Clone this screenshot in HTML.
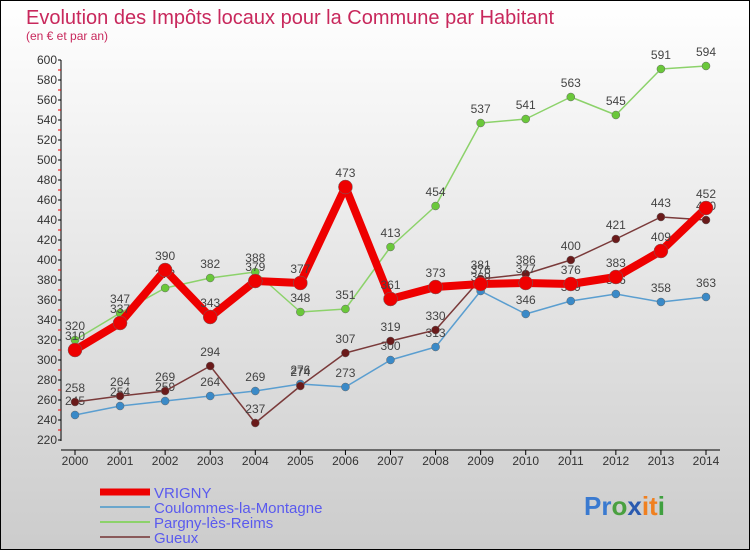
<!DOCTYPE html>
<html><head><meta charset="utf-8"><style>
body{margin:0;width:750px;height:550px;overflow:hidden;font-family:"Liberation Sans",sans-serif}
svg{display:block}
</style></head><body>
<svg id="chart" width="750" height="550" xmlns="http://www.w3.org/2000/svg">
<defs><linearGradient id="bg" x1="0" y1="0" x2="0" y2="1"><stop offset="0" stop-color="#ffffff"/><stop offset="1" stop-color="#cccccc"/></linearGradient></defs>
<rect x="0.5" y="0.5" width="749" height="549" fill="url(#bg)" stroke="#000" stroke-width="1"/>
<text x="26" y="24" font-size="20" fill="#c8285c">Evolution des Impôts locaux pour la Commune par Habitant</text>
<text x="26" y="40" font-size="12" fill="#c8285c">(en € et par an)</text>
<g id="axes"></g><g id="series"></g>
<g>
<line x1="100" y1="492" x2="150" y2="492" stroke="#e00" stroke-width="7"/>
<text x="154" y="498" font-size="15" fill="#5a5aee">VRIGNY</text>
<line x1="100" y1="507" x2="150" y2="507" stroke="#6aa6cc" stroke-width="2"/>
<text x="154" y="513" font-size="15" fill="#5a5aee">Coulommes-la-Montagne</text>
<line x1="100" y1="522" x2="150" y2="522" stroke="#8cd26a" stroke-width="2"/>
<text x="154" y="528" font-size="15" fill="#5a5aee">Pargny-lès-Reims</text>
<line x1="100" y1="537" x2="150" y2="537" stroke="#8a5a5a" stroke-width="2"/>
<text x="154" y="543" font-size="15" fill="#5a5aee">Gueux</text>
</g>
<text x="584" y="515" font-size="26" font-weight="bold"><tspan fill="#3a7ad0">Pr</tspan><tspan fill="#4aa040">o</tspan><tspan fill="#2a5ab0">x</tspan><tspan fill="#f08020">it</tspan><tspan fill="#40a040">i</tspan></text>
</svg>
<script>
const years=[2000,2001,2002,2003,2004,2005,2006,2007,2008,2009,2010,2011,2012,2013,2014];
const vrigny=[310,337,390,343,379,377,473,361,373,376,377,376,383,409,452];
const coulommes=[245,254,259,264,269,276,273,300,313,369,346,359,366,358,363];
const pargny=[320,347,372,382,388,348,351,413,454,537,541,563,545,591,594];
const gueux=[258,264,269,294,237,274,307,319,330,381,386,400,421,443,440];
const yTicks=[220,240,260,280,300,320,340,360,380,400,420,440,460,480,500,520,540,560,580,600];
const NS="http://www.w3.org/2000/svg";
const x=i=>75+i*(706-75)/(years.length-1);
const y=v=>440-(v-220)*(380/380);
function mk(tag,attrs,parent){const e=document.createElementNS(NS,tag);for(const k in attrs)e.setAttribute(k,attrs[k]);parent.appendChild(e);return e;}
const axes=document.getElementById('axes');
let a=mk('line',{x1:61,y1:60,x2:61,y2:441,stroke:'#000'},axes);


a=mk('line',{x1:61,y1:450,x2:720,y2:450,stroke:'#000'},axes);


yTicks.forEach((t,i)=>{
  mk('line',{x1:58,y1:y(t),x2:61,y2:y(t),stroke:'#000'},axes);
  if(i<yTicks.length-1) mk('line',{x1:58,y1:y(t)-10,x2:61,y2:y(t)-10,stroke:'#e00'},axes);
  const tx=mk('text',{x:57,y:y(t)+4,'font-size':12,'text-anchor':'end',fill:'#333'},axes);
  tx.textContent=t;
  
  
});
years.forEach((yr,i)=>{
  mk('line',{x1:x(i),y1:450,x2:x(i),y2:455,stroke:'#000'},axes);
  const tx=mk('text',{x:x(i),y:465,'font-size':12,'text-anchor':'middle',fill:'#333'},axes);
  tx.textContent=yr;
  
  
});
const sg=document.getElementById('series');
function draw(data,name,color,dot,w,r){
  const g=mk('g',{},sg);
  
  
  const p=mk('polyline',{points:data.map((v,i)=>x(i)+','+y(v)).join(' '),fill:'none',stroke:color,'stroke-width':w,'stroke-linejoin':'round'},g);
  
  
  data.forEach((v,i)=>{
    const c=mk('circle',{cx:x(i),cy:y(v),r:r,fill:dot,stroke:'#666','stroke-width':0.5},g);
    
    
    const t=mk('text',{x:x(i),y:y(v)-10,'font-size':12,'text-anchor':'middle',fill:'#444'},g);
    t.textContent=v;
    
    
  });
}
draw(coulommes,'coulommes','#5a9ed0','#3a8ac8',1.5,4);
draw(gueux,'gueux','#7a3a3a','#6a1a1a',1.5,4);
draw(pargny,'pargny','#8cd26a','#6ac83a',1.5,4);
draw(vrigny,'vrigny','#ee0000','#ee0000',8,7);
</script>
</body></html>
